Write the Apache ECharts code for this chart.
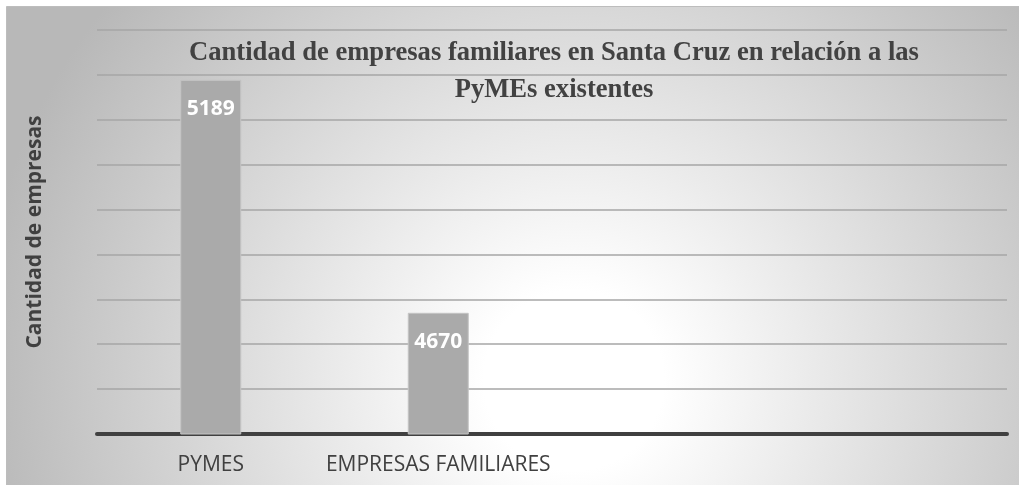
<!DOCTYPE html>
<html>
<head>
<meta charset="utf-8">
<script src="https://cdn.jsdelivr.net/npm/echarts@6/dist/echarts.min.js"></script>
<style>
html,body{margin:0;padding:0;background:#fff;}
#chart{width:1019px;height:485px;}
</style>
</head>
<body>
<div id="chart"></div>
<script>
const categories = ['PYMES', 'EMPRESAS FAMILIARES', '', ''];
const values = [5189, 4670, null, null];
const yMin = 4400, yMax = 5300, yInterval = 100;
const titleText = 'Cantidad de empresas familiares en Santa Cruz en relación a las\nPyMEs existentes';
const yAxisName = 'Cantidad de empresas';

const chart = echarts.init(document.getElementById('chart'), null, {renderer: 'canvas'});
chart.setOption({
  animation: false,
  backgroundColor: '#ffffff',
  graphic: [{
    type: 'rect', left: 6, top: 6, z: -10,
    shape: {width: 1013, height: 479},
    style: {
      fill: {
        type: 'radial', x: 0.56, y: 0.78, r: 1.25,
        colorStops: [
          {offset: 0, color: '#ffffff'},
          {offset: 0.15, color: '#ffffff'},
          {offset: 1, color: '#b8b8b8'}
        ]
      },
      stroke: '#bdbdbd', lineWidth: 1
    }
  }],
  title: {
    text: titleText,
    left: 549, top: 30,
    textAlign: 'center',
    z: 10,
    textStyle: {
      fontFamily: 'Liberation Serif', fontWeight: 'bold', fontSize: 26.6,
      color: '#424242', lineHeight: 37
    }
  },
  grid: {left: 97, right: 12, top: 30, bottom: 51, containLabel: false},
  xAxis: {
    type: 'category', data: categories,
    axisLine: {show: true, lineStyle: {color: '#404040', width: 4}},
    axisTick: {show: false},
    axisLabel: {fontFamily: 'Open Sans', fontSize: 21, color: '#404040', margin: 21, interval: 0}
  },
  yAxis: {
    type: 'value', min: yMin, max: yMax, interval: yInterval,
    name: yAxisName, nameLocation: 'middle', nameGap: 51, nameRotate: 90,
    nameTextStyle: {fontFamily: 'Open Sans', fontWeight: 'bold', fontSize: 21, color: '#404040'},
    axisLine: {show: false}, axisTick: {show: false}, axisLabel: {show: false},
    splitLine: {lineStyle: {color: '#a6a6a6', width: 1.5}}
  },
  series: [{
    type: 'bar', data: values, barWidth: 61,
    itemStyle: {color: '#aaaaaa', borderColor: '#c4c4c4', borderWidth: 1},
    label: {
      show: true, position: 'insideTop', distance: 19,
      fontFamily: 'Open Sans', fontWeight: 'bold', fontSize: 21, color: '#ffffff'
    }
  }]
});
</script>
</body>
</html>
